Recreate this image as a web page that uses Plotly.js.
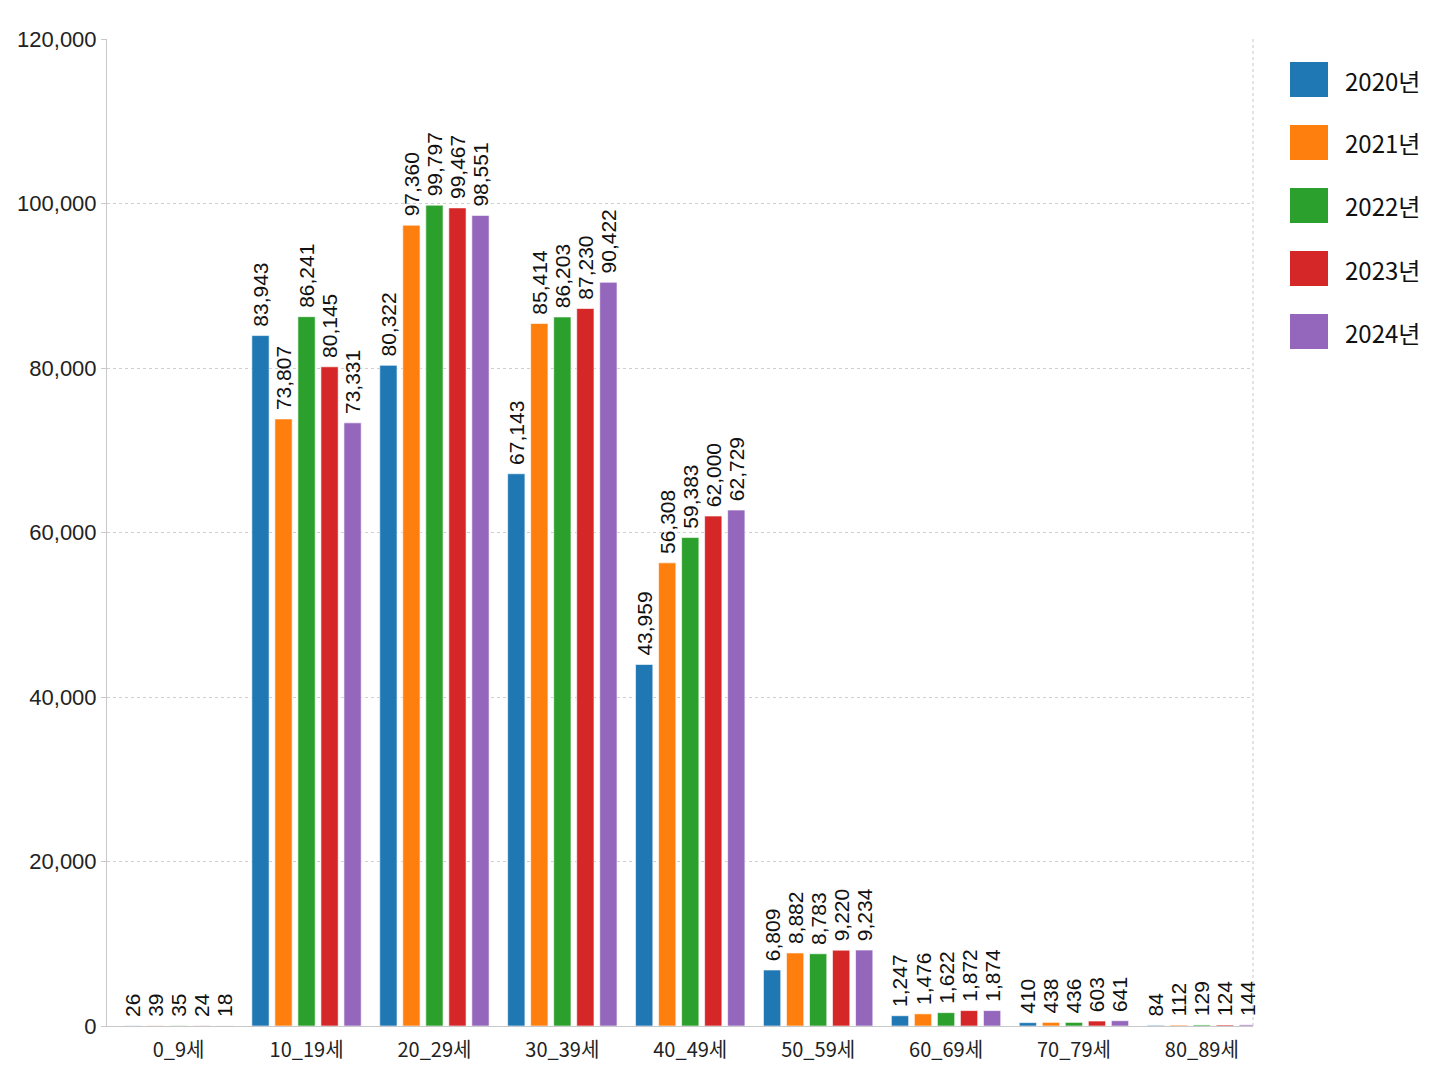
<!DOCTYPE html>
<html>
<head>
<meta charset="utf-8">
<script src="https://cdn.plot.ly/plotly-3.0.1.min.js"></script>
<style>
  html, body { margin: 0; padding: 0; background: #fff; }
  #age_chart { width: 1448px; height: 1086px; }
</style>
</head>
<body>
<div id="age_chart"></div>
<script>
// age groups and yearly counts
var age_groups = ['0_9세', '10_19세', '20_29세', '30_39세', '40_49세', '50_59세', '60_69세', '70_79세', '80_89세'];
var years = ['2020년', '2021년', '2022년', '2023년', '2024년'];
var colors = ['#1f77b4', '#ff7f0e', '#2ca02c', '#d62728', '#9467bd'];

var y2020 = [26, 83943, 80322, 67143, 43959, 6809, 1247, 410, 84];
var y2021 = [39, 73807, 97360, 85414, 56308, 8882, 1476, 438, 112];
var y2022 = [35, 86241, 99797, 86203, 59383, 8783, 1622, 436, 129];
var y2023 = [24, 80145, 99467, 87230, 62000, 9220, 1872, 603, 124];
var y2024 = [18, 73331, 98551, 90422, 62729, 9234, 1874, 641, 144];

var series = [y2020, y2021, y2022, y2023, y2024];

var data = [];
for (var i = 0; i < series.length; i++) {
    data.push({
        x: age_groups,
        y: series[i],
        type: 'bar',
        name: years[i],
        marker: { color: colors[i], line: { color: 'rgba(255,255,255,0.6)', width: 1 } },
        // leading nbsp gives a little room between bar top and the rotated label
        text: series[i].map(function(v) { return '\u00a0' + v.toLocaleString('en-US'); }),
        textposition: 'outside',
        textangle: -90,
        constraintext: 'none',
        textfont: { family: 'Liberation Sans, Arial, sans-serif', size: 21, color: '#111' },
        cliponaxis: false,
        hoverinfo: 'x+y+name'
    });
}

// hand drawn legend: big squares on the right
var shapes = [
    // dotted right border of the plot area
    { type: 'line', xref: 'paper', yref: 'paper', x0: 1, x1: 1, y0: 0, y1: 1,
      line: { color: '#c8c8c8', width: 1, dash: 'dot' } }
];
var annotations = [];
for (var k = 0; k < years.length; k++) {
    var item_top = 62 + k * 63;
    shapes.push({
        type: 'rect', xref: 'paper', yref: 'paper',
        x0: (1290 - 107) / 1146, x1: (1328 - 107) / 1146,
        y0: (1026 - item_top - 35) / 987, y1: (1026 - item_top) / 987,
        fillcolor: colors[k], line: { width: 0 }
    });
    annotations.push({
        xref: 'paper', yref: 'paper',
        x: (1343 - 107) / 1146, y: (1026 - item_top - 18) / 987,
        xanchor: 'left', yanchor: 'middle',
        text: years[k], showarrow: false,
        font: { family: 'Noto Sans CJK KR, Liberation Sans, sans-serif', size: 24, color: '#111' }
    });
}

var layout = {
    width: 1448,
    height: 1086,
    margin: { l: 107, r: 195, t: 39, b: 60 },
    paper_bgcolor: '#fff',
    plot_bgcolor: '#fff',
    showlegend: false,
    barmode: 'group',
    bargap: 0.1,
    bargroupgap: 0.25,
    font: { family: 'Liberation Sans, Arial, sans-serif', color: '#222' },
    xaxis: {
        type: 'category',
        range: [-0.56, 8.4],
        showline: true,
        linecolor: '#c8c8c8',
        linewidth: 1,
        showgrid: false,
        ticks: '',
        ticklabelstandoff: 6,
        tickfont: { family: 'Noto Sans CJK KR, Liberation Sans, sans-serif', size: 20, color: '#222' }
    },
    yaxis: {
        range: [0, 120000],
        dtick: 20000,
        tickformat: ',d',
        showline: true,
        linecolor: '#c8c8c8',
        linewidth: 1,
        ticks: 'outside',
        ticklen: 5,
        tickcolor: '#c8c8c8',
        gridcolor: '#cfcfcf',
        griddash: 'dot',
        zeroline: false,
        tickfont: { family: 'Liberation Sans, Arial, sans-serif', size: 22, color: '#222' }
    },
    shapes: shapes,
    annotations: annotations
};

Plotly.newPlot('age_chart', data, layout, { displayModeBar: false, staticPlot: true });
</script>
</body>
</html>
